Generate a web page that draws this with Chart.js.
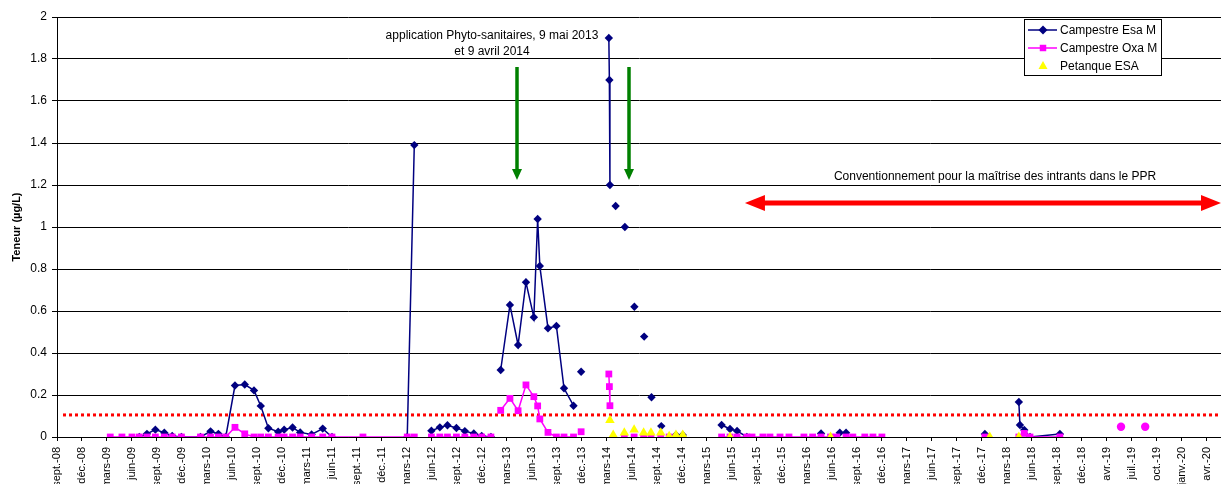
<!DOCTYPE html>
<html>
<head>
<meta charset="utf-8">
<script src="https://cdn.jsdelivr.net/npm/chart.js@4.4.1/dist/chart.umd.min.js"></script>
<style>
  html, body { margin: 0; padding: 0; background: #fff; }
  #wrap { width: 1221px; height: 484px; }
</style>
</head>
<body>
<div id="wrap"><canvas id="chart" width="1221" height="484"></canvas></div>
<script>
// sampling dates (one row per date, blank cells = null)
const sampleDates = [
  '2009-03-17', '2009-04-29', '2009-06-05', '2009-07-02', '2009-07-30', '2009-08-30', '2009-10-02', '2009-10-31', '2009-12-04',
  '2010-02-12', '2010-03-21', '2010-04-19', '2010-05-16', '2010-06-19', '2010-07-25', '2010-08-28', '2010-09-22', '2010-10-20', '2010-11-25', '2010-12-17',
  '2011-01-17', '2011-02-14', '2011-03-28', '2011-05-08', '2011-06-11', '2011-10-03',
  '2012-03-14', '2012-04-09', '2012-05-09', '2012-06-11', '2012-07-12', '2012-08-09', '2012-09-11', '2012-10-12', '2012-11-14', '2012-12-13',
  '2013-01-16', '2013-02-05', '2013-02-21', '2013-03-27', '2013-04-26', '2013-05-25', '2013-06-23', '2013-07-07', '2013-07-15', '2013-08-14', '2013-09-14', '2013-10-12', '2013-11-16', '2013-12-01', '2013-12-14',
  '2014-02-01', '2014-03-26', '2014-03-28', '2014-03-30', '2014-04-11', '2014-04-20', '2014-05-22', '2014-05-24', '2014-06-27', '2014-06-28', '2014-08-01', '2014-08-03', '2014-08-28', '2014-08-30', '2014-10-03', '2014-10-05', '2014-11-03', '2014-11-28', '2014-12-23',
  '2015-02-15', '2015-05-15', '2015-06-15', '2015-07-11', '2015-08-16', '2015-09-04', '2015-10-14', '2015-11-09', '2015-12-16',
  '2016-01-18', '2016-03-13', '2016-04-14', '2016-05-15', '2016-06-19', '2016-07-12', '2016-07-23', '2016-08-15', '2016-09-09', '2016-10-23', '2016-11-22', '2016-12-25',
  '2017-06-01', '2018-01-08', '2018-01-26', '2018-05-13', '2018-05-17', '2018-06-02', '2018-06-23', '2018-10-11',
  '2019-01-15', '2019-05-24', '2019-07-15', '2019-08-21'
];

const campestreEsaM = [
  null, null, null, 0, 0.015, 0.035, 0.02, 0.005, 0,
  0, 0.027, 0.015, 0, 0.245, 0.25, 0.222, 0.148, 0.042, 0.025, 0.035,
  0.045, 0.022, 0.012, 0.04, 0, null,
  0, 1.39, null, 0.03, 0.046, 0.056, 0.043, 0.028, 0.017, 0.005,
  0, null, 0.319, 0.629, 0.438, 0.737, 0.57, 1.038, 0.814, 0.518, 0.529, 0.232, 0.149, null, 0.311,
  null, 1.9, 1.7, 1.2, null, 1.1, null, 1.0, null, 0.62, null, 0.478, null, 0.189, null, 0.052, null, 0.01, 0.01,
  null, 0.057, 0.038, 0.029, 0, null, null, null, null,
  null, null, null, 0.017, null, null, 0.02, 0.02, null, null, null, null,
  null, 0.014, null, 0.167, 0.057, 0.033, 0, 0.014,
  null, null, null, null
];

const campestreOxaM = [
  0, 0, 0, 0, 0, 0, 0, 0, 0,
  0, 0, 0, 0, 0.046, 0.015, 0, 0, 0, 0, 0,
  0, 0, 0, 0, 0, 0,
  0, 0, null, 0, 0, 0, 0, 0, 0, 0,
  0, null, 0.127, 0.184, 0.125, 0.248, 0.192, 0.148, 0.086, 0.022, 0, 0, 0, null, 0.025,
  null, 0.3, 0.24, 0.149, null, null, 0, null, 0, null, 0, null, 0, null, 0, null, 0, null, null,
  null, 0, 0, 0, 0, 0, 0, 0, 0,
  0, 0, 0, 0, 0, 0, null, 0, 0, 0, 0, 0,
  null, 0, null, 0, null, 0.017, 0, 0,
  null, 0.049, null, 0.049
];

const petanqueEsa = [
  null, null, null, null, null, null, null, null, null,
  null, null, null, null, null, null, null, null, null, null, null,
  null, null, null, null, null, null,
  null, null, null, null, null, null, null, null, null, null,
  null, null, null, null, null, null, null, null, null, null, null, null, null, null, null,
  null, null, null, 0.08, 0.01, null, 0.02, null, 0.035, null, 0.02, null, 0.02, null, 0.02, null, 0.003, 0.01, 0.01,
  null, null, 0, null, null, null, null, null, null,
  null, null, null, null, 0, null, null, null, null, null, null, null,
  null, null, 0, 0, null, null, null, null,
  null, null, null, null
];

const tickLabels = [
  'sept.-08', 'déc.-08', 'mars-09', 'juin-09', 'sept.-09', 'déc.-09', 'mars-10', 'juin-10', 'sept.-10', 'déc.-10',
  'mars-11', 'juin-11', 'sept.-11', 'déc.-11', 'mars-12', 'juin-12', 'sept.-12', 'déc.-12', 'mars-13', 'juin-13',
  'sept.-13', 'déc.-13', 'mars-14', 'juin-14', 'sept.-14', 'déc.-14', 'mars-15', 'juin-15', 'sept.-15', 'déc.-15',
  'mars-16', 'juin-16', 'sept.-16', 'déc.-16', 'mars-17', 'juin-17', 'sept.-17', 'déc.-17', 'mars-18', 'juin-18',
  'sept.-18', 'déc.-18', 'avr.-19', 'juil.-19', 'oct.-19', 'janv.-20', 'avr.-20'
];

const seriesNames = ['Campestre Esa M', 'Campestre Oxa M', 'Petanque ESA'];

// axis: first tick on 2 sept 2008, one tick every 92 days
const axisStart = Date.UTC(2008, 8, 2);
const tickStepDays = 92;
const axisMaxDays = 4284;
const dayOf = (s) => (Date.parse(s) - axisStart) / 86400000;

// annotations
const threshold = 0.105;
const sprayArrowDates = ['2013-04-22', '2014-06-10'];
const conventionStart = '2015-08-09';

const FONT = '"Liberation Sans", Arial, sans-serif';
const NAVY = '#000080';
const PINK = '#ff00ff';
const YELLOW = '#ffff00';

const toPoints = (vals) => sampleDates.map((d, i) => ({ x: dayOf(d), y: vals[i] }));

function drawMarker(ctx, style, x, y, r, color) {
    ctx.save();
    ctx.fillStyle = color;
    ctx.beginPath();
    if (style === 'diamond') {
        ctx.moveTo(x, y - r); ctx.lineTo(x + r, y); ctx.lineTo(x, y + r); ctx.lineTo(x - r, y);
    } else if (style === 'square') {
        ctx.rect(x - r * 0.72, y - r * 0.72, r * 1.44, r * 1.44);
    } else {
        ctx.moveTo(x, y - r); ctx.lineTo(x + r * 0.9, y + r * 0.6); ctx.lineTo(x - r * 0.9, y + r * 0.6);
    }
    ctx.closePath();
    ctx.fill();
    ctx.restore();
}

function arrowHead(ctx, tipX, tipY, dx, dy, len, half) {
    // dx, dy: unit direction of the arrow
    ctx.beginPath();
    ctx.moveTo(tipX, tipY);
    ctx.lineTo(tipX - dx * len - dy * half, tipY - dy * len + dx * half);
    ctx.lineTo(tipX - dx * len + dy * half, tipY - dy * len - dx * half);
    ctx.closePath();
    ctx.fill();
}

const annotations = {
    id: 'annotations',
    beforeDatasetsDraw(chart) {
        const { ctx, chartArea, scales: { y } } = chart;
        const ty = y.getPixelForValue(threshold);
        ctx.save();
        ctx.strokeStyle = '#ff0000';
        ctx.lineWidth = 3;
        ctx.setLineDash([3, 3]);
        ctx.beginPath();
        ctx.moveTo(chartArea.left + 6, ty);
        ctx.lineTo(chartArea.right, ty);
        ctx.stroke();
        ctx.restore();
    },
    afterDatasetsDraw(chart) {
        const { ctx, chartArea, scales: { x, y } } = chart;
        ctx.save();

        // green arrows (phyto applications)
        ctx.strokeStyle = '#008000';
        ctx.fillStyle = '#008000';
        ctx.lineWidth = 3.5;
        sprayArrowDates.forEach((d) => {
            const px = Math.round(x.getPixelForValue(dayOf(d)));
            const top = y.getPixelForValue(1.762);
            const tip = y.getPixelForValue(1.224);
            ctx.beginPath();
            ctx.moveTo(px, top);
            ctx.lineTo(px, tip - 9);
            ctx.stroke();
            arrowHead(ctx, px, tip, 0, 1, 11, 5);
        });

        // red double arrow
        ctx.strokeStyle = '#ff0000';
        ctx.fillStyle = '#ff0000';
        ctx.lineWidth = 5;
        const ay = y.getPixelForValue(1.114);
        const ax0 = x.getPixelForValue(dayOf(conventionStart));
        const ax1 = chartArea.right;
        ctx.beginPath();
        ctx.moveTo(ax0 + 15, ay);
        ctx.lineTo(ax1 - 15, ay);
        ctx.stroke();
        arrowHead(ctx, ax0, ay, -1, 0, 20, 8);
        arrowHead(ctx, ax1, ay, 1, 0, 20, 8);

        // texts
        ctx.fillStyle = '#000';
        ctx.font = '12px ' + FONT;
        ctx.textAlign = 'center';
        ctx.textBaseline = 'middle';
        ctx.fillText('application Phyto-sanitaires, 9 mai 2013', 492, y.getPixelForValue(1.91));
        ctx.fillText('et 9 avril 2014', 492, y.getPixelForValue(1.834));
        ctx.fillText('Conventionnement pour la maîtrise des intrants dans le PPR', 995, y.getPixelForValue(1.238));

        // legend box
        const lx = 1024, ly = 19, lw = 137, lh = 56;
        ctx.fillStyle = '#fff';
        ctx.fillRect(lx, ly, lw, lh);
        ctx.strokeStyle = '#000';
        ctx.lineWidth = 1;
        ctx.strokeRect(lx + 0.5, ly + 0.5, lw, lh);
        const rows = [
            { color: NAVY, marker: 'diamond', line: true },
            { color: PINK, marker: 'square', line: true },
            { color: YELLOW, marker: 'triangle', line: false }
        ];
        rows.forEach((r, i) => {
            const ry = ly + 11 + i * 18;
            if (r.line) {
                ctx.strokeStyle = r.color;
                ctx.lineWidth = 1.5;
                ctx.beginPath();
                ctx.moveTo(lx + 4, ry);
                ctx.lineTo(lx + 33, ry);
                ctx.stroke();
            }
            drawMarker(ctx, r.marker, lx + 19, ry, r.marker === 'triangle' ? 5 : 4.5, r.color);
            ctx.fillStyle = '#000';
            ctx.textAlign = 'left';
            ctx.fillText(seriesNames[i], lx + 36, ry + 1);
        });
        ctx.restore();
    }
};

const ctx = document.getElementById('chart').getContext('2d');
new Chart(ctx, {
    type: 'line',
    data: {
        datasets: [
            {
                label: seriesNames[0],
                data: toPoints(campestreEsaM),
                borderColor: NAVY,
                backgroundColor: NAVY,
                borderWidth: 1.5,
                pointStyle: 'rectRot',
                pointRadius: 4.2,
                pointBorderWidth: 0,
                order: 3,
            },
            {
                label: seriesNames[1],
                data: toPoints(campestreOxaM),
                borderColor: PINK,
                backgroundColor: PINK,
                borderWidth: 1.5,
                pointStyle: (c) => (c.raw && c.raw.x >= dayOf('2019-01-01') ? 'circle' : 'rect'),
                pointRadius: (c) => (c.raw && c.raw.x >= dayOf('2019-01-01') ? 4.2 : 4.8),
                pointBorderWidth: 0,
                order: 2,
            },
            {
                label: seriesNames[2],
                data: toPoints(petanqueEsa),
                borderColor: YELLOW,
                backgroundColor: YELLOW,
                showLine: false,
                pointStyle: 'triangle',
                pointRadius: 5.5,
                pointBorderWidth: 0,
                order: 1,
            },
        ],
    },
    options: {
        responsive: false,
        animation: false,
        spanGaps: false,
        layout: { autoPadding: false, padding: { top: 17, right: 0, left: 0, bottom: 0 } },
        plugins: {
            legend: { display: false },
            tooltip: { enabled: false },
        },
        scales: {
            x: {
                type: 'linear',
                min: 0,
                max: axisMaxDays,
                afterBuildTicks: (scale) => {
                    scale.ticks = tickLabels.map((_, i) => ({ value: i * tickStepDays }));
                },
                afterFit: (scale) => {
                    scale.height = 47;
                    scale.paddingLeft = 0;
                    scale.paddingRight = 0;
                },
                grid: { drawOnChartArea: false, drawTicks: true, tickLength: 4, color: '#000' },
                border: { display: true, color: '#000', width: 1 },
                ticks: {
                    autoSkip: false,
                    maxRotation: 90,
                    minRotation: 90,
                    padding: 6,
                    color: '#000',
                    font: { family: FONT, size: 11 },
                    callback: (v, i) => tickLabels[i],
                },
            },
            y: {
                min: 0,
                max: 2,
                afterFit: (scale) => { scale.width = 57; },
                grid: { color: '#000', lineWidth: 1, tickLength: 5 },
                border: { display: true, color: '#000', width: 1 },
                ticks: {
                    stepSize: 0.2,
                    padding: 5,
                    color: '#000',
                    font: { family: FONT, size: 12 },
                    callback: (v) => String(+v.toFixed(1)),
                },
                title: {
                    display: true,
                    text: 'Teneur (µg/L)',
                    color: '#000',
                    font: { family: FONT, size: 11, weight: 'bold' },
                    padding: { top: 10, bottom: 0 },
                },
            },
        },
    },
    plugins: [annotations],
});
</script>
</body>
</html>
